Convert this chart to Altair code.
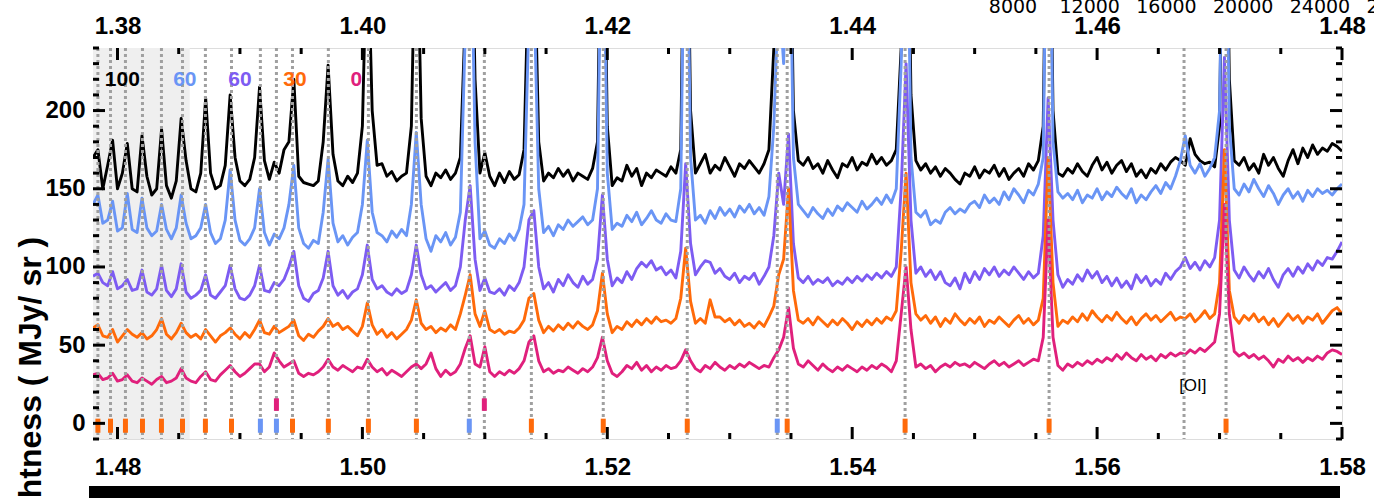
import altair as alt
import pandas as pd

# ---------------- data ----------------
N_PTS = 256
WL_START = 1.478
WL_STEP = 0.0004
wavelength = [round(WL_START + WL_STEP * i, 4) for i in range(N_PTS)]

flux_100 = [
    170,175,150,165,181,150,160,179,150,148,184,158,146,150,188,152,
    144,155,195,168,150,148,160,208,160,150,152,165,210,170,155,152,
    156,170,215,168,156,167,160,175,180,220,158,154,153,152,155,180,
    229,172,155,152,158,154,160,190,320,200,165,166,158,161,155,158,
    160,190,350,195,158,152,160,157,162,156,160,170,260,380,220,160,
    173,158,152,160,154,161,156,159,175,300,320,180,155,160,157,163,
    158,162,155,160,158,156,163,180,400,190,152,157,155,165,158,163,
    152,160,157,162,160,158,164,160,175,420,200,160,166,172,160,165,
    162,170,164,158,166,163,168,164,160,166,175,240,300,250,400,200,
    168,165,170,163,166,160,168,162,157,166,164,170,162,167,165,172,
    166,170,165,168,175,240,420,210,168,162,166,160,164,158,163,160,
    156,153,160,158,164,157,162,160,165,158,163,156,160,163,158,166,
    162,168,190,430,200,160,158,163,160,166,161,158,165,170,162,167,
    160,165,168,161,166,158,162,157,163,160,166,162,167,170,168,165,
    182,172,168,166,167,164,190,430,220,168,165,170,162,166,160,172,
    165,170,163,158,168,175,166,176,170,178,172,176,174,179,177,174,
]
flux_60a = [
    140,146,128,130,142,123,125,147,124,122,144,125,120,123,140,124,
    118,125,146,128,118,120,125,140,122,115,118,130,162,130,117,114,
    118,125,150,122,114,121,118,125,140,165,125,115,112,117,115,135,
    169,128,116,120,114,119,122,140,181,135,122,120,116,123,119,124,
    120,140,186,140,118,110,120,116,122,114,119,135,250,350,180,118,
    123,114,112,118,115,121,117,124,140,260,280,150,122,126,120,127,
    124,130,126,129,132,127,130,150,380,160,124,128,126,133,129,135,
    127,131,136,130,128,134,130,129,150,400,170,130,133,128,136,131,
    138,133,137,132,139,135,140,134,138,133,145,190,280,230,380,170,
    140,136,132,138,134,131,137,133,139,136,141,138,135,142,137,140,
    144,140,146,141,150,230,400,170,135,132,136,127,130,128,135,138,
    134,137,135,140,142,138,146,141,144,140,148,143,150,146,141,149,
    146,153,170,420,180,148,144,147,143,149,141,146,144,150,143,148,
    145,151,147,144,150,141,146,143,148,152,147,154,150,158,168,184,
    165,160,166,158,163,170,200,420,190,150,146,153,148,156,150,145,
    152,147,140,146,150,144,148,142,149,145,150,147,149,146,150,153,
]
flux_60b = [
    94,96,90,88,97,86,88,92,85,86,98,84,82,86,101,85,
    81,86,102,84,80,82,85,95,82,80,84,88,101,86,80,79,
    82,88,101,85,84,90,88,92,100,110,88,80,78,83,85,93,
    110,88,82,85,80,84,86,95,114,92,86,88,84,82,86,83,
    85,95,114,95,86,88,84,87,90,85,88,100,130,152,105,85,
    93,84,83,86,82,88,85,90,100,130,136,100,86,90,84,92,
    88,95,90,87,94,89,92,105,146,105,88,93,90,97,92,99,
    103,100,104,98,100,95,98,93,110,166,115,95,100,104,103,96,
    99,94,92,96,90,94,92,96,89,94,100,120,160,140,185,115,
    93,90,94,89,92,90,93,88,91,89,93,90,94,91,95,92,
    96,93,97,94,100,150,230,130,96,100,94,98,92,97,90,88,
    93,86,96,90,97,92,99,95,100,94,98,95,100,96,92,97,
    93,96,120,208,130,95,87,92,89,95,91,98,93,97,90,94,
    88,93,87,91,86,95,90,94,88,92,89,96,92,97,100,106,
    99,103,98,104,100,106,130,234,130,98,93,100,95,91,97,93,
    99,92,87,95,99,94,100,96,102,98,104,101,106,105,110,116,
]
flux_30 = [
    61,63,56,55,60,52,56,60,57,55,58,54,56,60,67,57,
    54,58,64,58,55,57,54,60,56,52,56,58,61,57,54,58,
    55,60,66,58,57,62,58,60,62,66,56,53,57,55,59,62,
    67,62,64,60,62,59,56,62,77,63,57,60,55,58,54,57,
    60,66,79,64,60,62,58,61,59,63,60,70,82,95,70,62,
    72,60,58,60,57,59,58,61,66,80,83,66,58,62,59,63,
    60,64,61,65,62,60,63,72,96,70,58,62,60,65,62,66,
    63,67,64,68,65,66,64,67,80,112,78,64,67,64,79,68,
    68,65,67,63,66,62,64,61,65,62,68,75,95,105,150,85,
    66,64,67,63,68,65,62,66,63,67,64,60,65,62,66,63,
    67,64,68,66,72,110,160,90,70,66,69,64,68,62,67,64,
    70,66,63,67,64,68,62,66,64,68,65,62,66,69,64,67,
    63,66,80,170,90,62,66,64,68,65,70,66,72,68,65,69,
    66,71,67,64,68,63,67,70,66,69,65,68,71,66,68,67,
    70,65,68,72,67,70,90,175,85,68,64,69,66,70,65,68,
    63,67,62,66,70,66,69,64,68,66,70,64,68,72,74,70,
]
flux_0 = [
    31,32,28,29,32,27,28,31,27,26,29,27,25,28,30,26,
    27,29,35,29,27,26,30,33,28,27,31,34,37,33,30,32,
    35,38,38,33,36,45,40,36,38,40,32,30,32,31,33,36,
    41,36,34,37,35,33,36,35,41,36,33,35,31,34,32,30,
    33,36,38,35,38,45,35,30,34,31,33,38,48,56,38,36,
    49,33,30,33,31,34,32,35,40,52,56,40,33,35,32,34,
    33,36,34,32,35,33,36,42,55,40,32,30,33,37,35,39,
    34,37,33,36,34,37,35,36,40,47,40,35,33,37,35,39,
    36,34,37,35,38,36,39,37,35,37,36,42,47,55,74,48,
    38,36,40,37,34,38,35,33,36,34,37,35,33,36,34,37,
    35,38,36,33,40,70,100,60,36,38,35,37,33,36,38,36,
    39,37,38,36,39,37,35,38,40,37,39,36,38,40,37,39,
    41,40,55,130,55,37,34,38,36,39,37,40,38,41,39,42,
    40,44,41,45,42,40,44,41,43,40,44,42,45,43,45,44,
    47,45,48,46,49,52,70,140,70,46,43,45,42,44,41,43,
    40,36,41,39,43,40,42,39,42,40,43,41,45,47,46,44,
]

# colours per series (drawing order: first at the bottom)
series_labels = ["100", "60", "60", "30", "0"]
series_colors = ["#000000", "#6a95f5", "#7d5cf2", "#ff6a0a", "#e0207c"]
series_values = [flux_100, flux_60a, flux_60b, flux_30, flux_0]
legend_wl = [1.4804, 1.4855, 1.4900, 1.4945, 1.4995]
legend_y = [216, 216, 216, 216, 216]

# line positions (dotted verticals)
line_wl = [1.4784, 1.47943, 1.48065, 1.48204, 1.48359, 1.48531, 1.48718, 1.48931,
           1.49167, 1.49298, 1.49429, 1.49722, 1.50049, 1.50441, 1.50873, 1.50996,
           1.51380, 1.51967, 1.52653, 1.53388, 1.53469, 1.54432, 1.55608, 1.56710,
           1.57053]

# identification markers
marker_wl = [1.4784, 1.47943, 1.48065, 1.48204, 1.48359, 1.48531, 1.48718, 1.48931,
             1.49167, 1.49298, 1.49429, 1.49722, 1.50049, 1.50441, 1.50873, 1.51380,
             1.51967, 1.52653, 1.53388, 1.53469, 1.54432, 1.55608, 1.57053,
             1.49298, 1.50996]
marker_lo = [-6] * 23 + [8, 8]
marker_hi = [3] * 23 + [16, 16]
marker_color = (["#ff6a0a"] * 8 + ["#6a95f5", "#6a95f5"] + ["#ff6a0a"] * 4 +
                ["#6a95f5"] + ["#ff6a0a"] * 3 + ["#6a95f5"] + ["#ff6a0a"] * 4 +
                ["#e0207c", "#e0207c"])

shade_range = [1.478, 1.4859]
oi_label = "[OI]"
oi_wl = 1.5667
oi_y = 21

bottom_ticks = [round(1.48 + 0.005 * k, 3) for k in range(21)]
top_labels = [1.38, 1.40, 1.42, 1.44, 1.46, 1.48]
bottom_labels = [1.48, 1.50, 1.52, 1.54, 1.56, 1.58]
y_labels = [0, 50, 100, 150, 200]
y_minor = list(range(-10, 241, 10))

other_panel_labels = ["8000", "12000", "16000", "20000", "24000", "28000"]
other_panel_values = [8000, 12000, 16000, 20000, 24000, 28000]

# ---------------- chart ----------------
W, H = 1249, 391
FONT = "Liberation Sans"
xs = alt.Scale(domain=[1.478, 1.58], nice=False, zero=False)
ys = alt.Scale(domain=[-10, 240], nice=False, zero=False)

bottom_axis = alt.Axis(values=bottom_labels, format=".2f", orient="bottom",
                       labelFont=FONT, labelFontSize=24, labelFontWeight="bold",
                       labelColor="black", labelPadding=16, ticks=False, tickSize=0,
                       domain=False, grid=False, title=None, labelFlush=False)
left_axis = alt.Axis(values=y_labels, orient="left", labelFont=FONT, labelFontSize=24,
                     labelFontWeight="bold", labelColor="black", labelPadding=8,
                     ticks=False, tickSize=0, domain=False, grid=False,
                     title="Brightness ( MJy/ sr )", titleFont=FONT, titleFontSize=32,
                     titleFontWeight="bold", titleColor="black", titleAngle=270,
                     titleX=-53, titleY=351, titleAlign="center",
                     titleBaseline="alphabetic", labelFlush=False)

X = lambda f: alt.X(f, scale=xs, axis=bottom_axis)
Y = lambda f: alt.Y(f, scale=ys, axis=left_axis)

shade_df = pd.DataFrame({"a": [shade_range[0]], "b": [shade_range[1]]})
shade = alt.Chart(shade_df).mark_rect(color="#efefef").encode(
    x=X("a:Q"), x2="b:Q", y=alt.value(0), y2=alt.value(H))

lines = []
for lab, col, vals in zip(series_labels, series_colors, series_values):
    df = pd.DataFrame({"wl": wavelength, "flux": vals})
    lines.append(alt.Chart(df).mark_line(color=col, strokeWidth=2.9, clip=True,
                                          strokeJoin="round").encode(
        x=X("wl:Q"), y=Y("flux:Q")))

dots_df = pd.DataFrame({"wl": line_wl})
dots = alt.Chart(dots_df).mark_rule(color="#a0a0a0", strokeWidth=3,
                                    strokeDash=[3, 3]).encode(
    x=X("wl:Q"), y=alt.value(0), y2=alt.value(H))

mk_df = pd.DataFrame({"wl": marker_wl, "lo": marker_lo, "hi": marker_hi, "c": marker_color})
markers = alt.Chart(mk_df).mark_rule(strokeWidth=5).encode(
    x=X("wl:Q"), y=Y("lo:Q"), y2="hi:Q", color=alt.Color("c:N", scale=None))

leg_df = pd.DataFrame({"wl": legend_wl, "y": legend_y, "t": series_labels, "c": series_colors})
legend_txt = alt.Chart(leg_df).mark_text(font=FONT, fontSize=21, fontWeight="bold",
                                         align="center", baseline="alphabetic").encode(
    x=X("wl:Q"), y=Y("y:Q"), text="t:N", color=alt.Color("c:N", scale=None))

oi_df = pd.DataFrame({"wl": [oi_wl], "y": [oi_y], "t": [oi_label]})
oi_txt = alt.Chart(oi_df).mark_text(font=FONT, fontSize=17, align="left",
                                    baseline="alphabetic", color="black").encode(
    x=X("wl:Q"), y=Y("y:Q"), text="t:N")

tick_df = pd.DataFrame({"wl": bottom_ticks,
                        "major": [abs(v * 50 - round(v * 50)) < 1e-6 for v in bottom_ticks]})
maj = tick_df[tick_df.major]
mnr = tick_df[~tick_df.major]
bt_major = alt.Chart(maj).mark_rule(color="black", strokeWidth=3).encode(
    x=X("wl:Q"), y=alt.value(H), y2=alt.value(H - 12))
bt_minor = alt.Chart(mnr).mark_rule(color="black", strokeWidth=3).encode(
    x=X("wl:Q"), y=alt.value(H), y2=alt.value(H - 6))
tt_major = alt.Chart(maj).mark_rule(color="black", strokeWidth=3).encode(
    x=X("wl:Q"), y=alt.value(0), y2=alt.value(12))
tt_minor = alt.Chart(mnr).mark_rule(color="black", strokeWidth=3).encode(
    x=X("wl:Q"), y=alt.value(0), y2=alt.value(6))

yt_df = pd.DataFrame({"v": y_minor, "major": [v % 50 == 0 for v in y_minor]})
ymaj = yt_df[yt_df.major]
ymin = yt_df[~yt_df.major]
lt_major = alt.Chart(ymaj).mark_rule(color="black", strokeWidth=3).encode(
    y=Y("v:Q"), x=alt.value(0), x2=alt.value(12))
lt_minor = alt.Chart(ymin).mark_rule(color="black", strokeWidth=3).encode(
    y=Y("v:Q"), x=alt.value(0), x2=alt.value(6))
rt_major = alt.Chart(ymaj).mark_rule(color="black", strokeWidth=3).encode(
    y=Y("v:Q"), x=alt.value(W - 12), x2=alt.value(W))
rt_minor = alt.Chart(ymin).mark_rule(color="black", strokeWidth=3).encode(
    y=Y("v:Q"), x=alt.value(W - 6), x2=alt.value(W))

bar_df = pd.DataFrame({"k": [0]})
bottom_bar = alt.Chart(bar_df).mark_rect(color="black").encode(
    x=alt.value(-4), x2=alt.value(1247), y=alt.value(438), y2=alt.value(460))

main = alt.layer(shade, *lines, dots, markers, legend_txt, oi_txt,
                 bt_major, bt_minor, tt_major, tt_minor,
                 lt_major, lt_minor, rt_major, rt_minor, bottom_bar)

top_df = pd.DataFrame({"v": top_labels})
top_axis_layer = alt.Chart(top_df).mark_point(opacity=0).encode(
    x=alt.X("v:Q", scale=alt.Scale(domain=[1.378, 1.48], nice=False, zero=False),
            axis=alt.Axis(orient="top", values=top_labels, format=".2f",
                          labelFont=FONT, labelFontSize=24, labelFontWeight="bold",
                          labelColor="black", labelPadding=10, ticks=False, tickSize=0,
                          domain=False, grid=False, title=None, labelFlush=False)),
    y=alt.value(0))

op_df = pd.DataFrame({"v": other_panel_values, "t": other_panel_labels})
other_panel = alt.Chart(op_df).mark_text(font="DejaVu Sans", fontSize=19, align="center",
                                         baseline="alphabetic", color="black").encode(
    x=alt.X("v:Q", scale=alt.Scale(domain=[-39950, 25148], nice=False, zero=False),
            axis=None),
    y=alt.value(-35), text="t:N")

chart = alt.layer(main, top_axis_layer, other_panel).resolve_scale(
    x="independent"
).properties(
    width=W, height=H,
    padding={"left": 93, "top": 48, "right": 32, "bottom": 59},
    autosize=alt.AutoSizeParams(type="none"),
).configure_view(stroke="black", strokeWidth=3).configure(background="white")

chart.save("out.html", embed_options={"renderer": "svg", "actions": False})
